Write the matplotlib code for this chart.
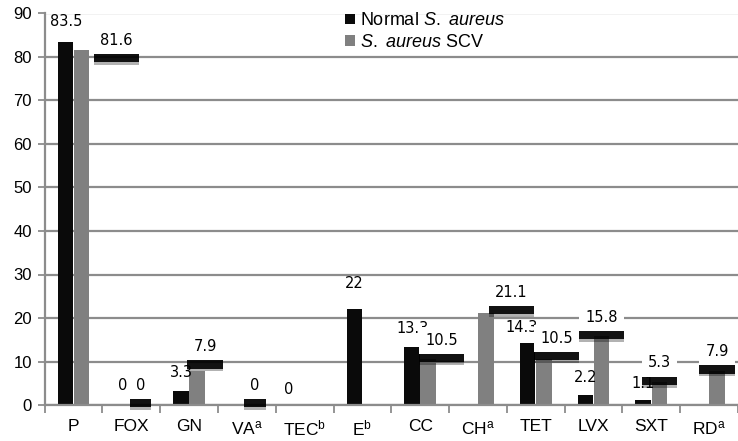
import numpy as np
import matplotlib
matplotlib.use('Agg')
import matplotlib.pyplot as plt
import matplotlib.patheffects as pe

# Data (percent resistant)
drugs = ['P', 'FOX', 'GN', 'VA$^{a}$', 'TEC$^{b}$', 'E$^{b}$',
         'CC', 'CH$^{a}$', 'TET', 'LVX', 'SXT', 'RD$^{a}$']
normal = [83.5, 0, 3.3, np.nan, 0, 22, 13.3, np.nan, 14.3, 2.2, 1.1, np.nan]
scv = [81.6, 0, 7.9, 0, np.nan, np.nan, 10.5, 21.1, 10.5, 15.8, 5.3, 7.9]

# Label nudges in pixels (dx, dy above bar top), as placed in the original
normal_nudge = [(1, 20), (0, 20), (0, 18), (0, 0), (-8, 15), (0, 26),
                (0, 19), (0, 0), (-6, 15), (0, 18), (0, 17), (0, 0)]
scv_nudge = [(35, 10), (1, 20), (8, 24), (0, 20), (0, 0), (0, 0),
             (13, 19), (25, 21), (13, 21), (0, 19), (0, 19), (0, 19)]

plt.rcParams['font.family'] = ['Liberation Sans', 'DejaVu Sans']
plt.rcParams['mathtext.fontset'] = 'custom'
plt.rcParams['mathtext.rm'] = 'Liberation Sans'
plt.rcParams['mathtext.it'] = 'Liberation Sans:italic'
plt.rcParams['mathtext.default'] = 'regular'

fig = plt.figure(figsize=(7.38, 4.41), dpi=100)
ax = fig.add_axes([44.6 / 738, 1 - 405 / 441, 1 - 44.6 / 738, (405 - 13.5) / 441])

x = np.arange(len(drugs))
w = 0.27
off = 0.14
gridc = '#8c8c8c'
lblsize = 10.5

ax.bar(x - off, normal, w, color='#0a0a0a', zorder=2,
       label='Normal $\\mathit{S.\\ aureus}$')
ax.bar(x + off, scv, w, color='#808080', zorder=2,
       label='$\\mathit{S.\\ aureus}$ SCV')

px = 0.72  # points per pixel at 100 dpi

# Normal series labels: plain text
for i, v in enumerate(normal):
    if np.isnan(v):
        continue
    dx, dy = normal_nudge[i]
    ax.annotate('{:g}'.format(v), (x[i] - off, v), xytext=(dx * px, dy * px),
                textcoords='offset points', ha='center', va='center',
                fontsize=lblsize, family='DejaVu Sans', zorder=5)

# SCV series labels: white box with a dark shadow underneath
shadow = [pe.SimplePatchShadow(offset=(0, -8), shadow_rgbFace='black', alpha=0.3),
          pe.SimplePatchShadow(offset=(0, -6), shadow_rgbFace='black', alpha=0.9),
          pe.Normal()]
for i, v in enumerate(scv):
    if np.isnan(v):
        continue
    dx, dy = scv_nudge[i]
    t = ax.annotate('{:g}'.format(v), (x[i] + off, v),
                    xytext=(dx * px, dy * px), textcoords='offset points',
                    ha='center', va='center', fontsize=lblsize,
                    family='DejaVu Sans', color='black', zorder=6,
                    bbox=dict(boxstyle='square,pad=0.42', fc='white', ec='none'))
    t.get_bbox_patch().set_path_effects(shadow)

ax.set_ylim(0, 90)
ax.set_xlim(-0.5, -0.5 + (738 - 44.6) / 58.4)
ax.set_yticks(np.arange(0, 91, 10))
ax.yaxis.grid(True, color=gridc, linewidth=1.6, zorder=0)
ax.set_axisbelow(True)

ax.set_xticks(x)
ax.set_xticklabels(drugs, fontsize=12.5)
ax.set_xticks(np.arange(-0.5, len(drugs), 1), minor=True)
ax.tick_params(axis='x', which='major', length=0, pad=10)
ax.tick_params(axis='x', which='minor', length=6, width=1.3, color=gridc)
ax.tick_params(axis='y', length=5, width=1.3, color=gridc, labelsize=12, pad=4)

for side in ['top', 'right']:
    ax.spines[side].set_visible(False)
for side in ['left', 'bottom']:
    ax.spines[side].set_color(gridc)
    ax.spines[side].set_linewidth(1.6)

ax.legend(loc='upper left', bbox_to_anchor=(0.415, 1.035), frameon=False,
          fontsize=13, handlelength=0.55, handleheight=0.55, handletextpad=0.3,
          labelspacing=0.25, borderpad=0.2)

fig.savefig('out.png', dpi=100)
